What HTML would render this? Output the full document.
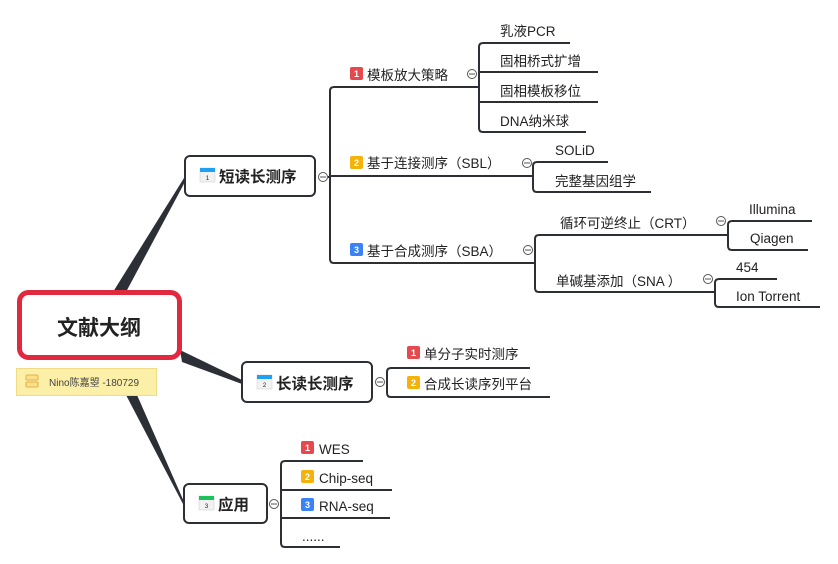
<!DOCTYPE html>
<html><head><meta charset="utf-8"><style>
html,body{margin:0;padding:0;background:#fff;width:838px;height:564px;overflow:hidden}
svg text{font-family:"Liberation Sans","Noto Sans CJK SC",sans-serif;fill:#222}
</style></head><body>
<svg width="838" height="564" viewBox="0 0 838 564" xmlns="http://www.w3.org/2000/svg">
<!-- main connectors -->
<path d="M113 292 L126 292 L186 180 L184 178 Z" fill="#2d2f36"/>
<path d="M180 350 L182 362 L242 384 L242 380 Z" fill="#2d2f36"/>
<path d="M126 395 L137 395 L185 504 L183 504 Z" fill="#2d2f36"/>
<g fill="none" stroke="#2d2f36" stroke-width="2">
<line x1="328" y1="177" x2="330" y2="177"/>
<path d="M478 87 H334 Q330 87 330 91 V259 Q330 263 334 263 H535"/>
<line x1="330" y1="176" x2="533" y2="176"/>
<path d="M570 43 H483 Q479 43 479 47 V128 Q479 132 483 132 H586"/>
<line x1="479" y1="72" x2="598" y2="72"/>
<line x1="479" y1="102" x2="598" y2="102"/>
<path d="M608 162 H537 Q533 162 533 166 V188 Q533 192 537 192 H651"/>
<path d="M728 235 H539 Q535 235 535 239 V288 Q535 292 539 292 H715"/>
<path d="M812 221 H732 Q728 221 728 225 V246 Q728 250 732 250 H808"/>
<path d="M777 279 H719 Q715 279 715 283 V303 Q715 307 719 307 H820"/>
<path d="M530 368 H391 Q387 368 387 372 V393 Q387 397 391 397 H550"/>
<path d="M363 461 H285 Q281 461 281 465 V543 Q281 547 285 547 H340"/>
<line x1="281" y1="490" x2="392" y2="490"/>
<line x1="281" y1="518" x2="390" y2="518"/>
</g>
<g fill="#fff" stroke="#555" stroke-width="1">
<circle cx="323" cy="177" r="4.5"/><circle cx="472" cy="74" r="4.5"/><circle cx="527" cy="163" r="4.5"/>
<circle cx="528" cy="250" r="4.5"/><circle cx="721" cy="221" r="4.5"/><circle cx="708" cy="279" r="4.5"/>
<circle cx="380" cy="382" r="4.5"/><circle cx="274" cy="504" r="4.5"/>
</g>
<g stroke="#555" stroke-width="1">
<line x1="320" y1="177" x2="326" y2="177"/><line x1="469" y1="74" x2="475" y2="74"/><line x1="524" y1="163" x2="530" y2="163"/>
<line x1="525" y1="250" x2="531" y2="250"/><line x1="718" y1="221" x2="724" y2="221"/><line x1="705" y1="279" x2="711" y2="279"/>
<line x1="377" y1="382" x2="383" y2="382"/><line x1="271" y1="504" x2="277" y2="504"/>
</g>
<rect x="19.5" y="292.5" width="160" height="65" rx="9" fill="#fff" stroke="#e0283f" stroke-width="5"/>
<text x="99" y="335" font-size="21" font-weight="bold" text-anchor="middle">文献大纲</text>
<rect x="16.5" y="368.5" width="140" height="27" fill="#fcefa8" stroke="#f0dc86"/>
<rect x="26" y="375" width="12" height="5" rx="1" fill="#fbe08a" stroke="#e2b24a" stroke-width="1"/>
<rect x="26" y="382" width="12" height="5" rx="1" fill="#fbe08a" stroke="#e2b24a" stroke-width="1"/>
<text x="49" y="386" font-size="10" style="fill:#444">Nino陈嘉曌 -180729</text>
<g fill="#fff" stroke="#2d2f36" stroke-width="2">
<rect x="185" y="156" width="130" height="40" rx="5"/>
<rect x="242" y="362" width="130" height="40" rx="5"/>
<rect x="184" y="484" width="83" height="39" rx="5"/>
</g>
<g>
<rect x="200" y="168" width="15" height="14" fill="#f2f2f2" stroke="#ccc" stroke-width="0.5"/><rect x="200" y="168" width="15" height="4" fill="#1ea1f2"/>
<text x="207.5" y="180" font-size="6" text-anchor="middle">1</text>
<rect x="257" y="375" width="15" height="14" fill="#f2f2f2" stroke="#ccc" stroke-width="0.5"/><rect x="257" y="375" width="15" height="4" fill="#1ea1f2"/>
<text x="264.5" y="387" font-size="6" text-anchor="middle">2</text>
<rect x="199" y="496" width="15" height="14" fill="#f2f2f2" stroke="#ccc" stroke-width="0.5"/><rect x="199" y="496" width="15" height="4" fill="#1cc35a"/>
<text x="206.5" y="508" font-size="6" text-anchor="middle">3</text>
</g>
<g font-size="15.5" font-weight="bold">
<text x="219" y="182">短读长测序</text>
<text x="276" y="389">长读长测序</text>
<text x="218" y="510">应用</text>
</g>
<g>
<rect x="350" y="67" width="13" height="13" rx="2" fill="#e5484d"/><rect x="350" y="156" width="13" height="13" rx="2" fill="#f5b20a"/><rect x="350" y="243" width="13" height="13" rx="2" fill="#3b82f6"/>
<rect x="407" y="346" width="13" height="13" rx="2" fill="#e5484d"/><rect x="407" y="376" width="13" height="13" rx="2" fill="#f5b20a"/>
<rect x="301" y="441" width="13" height="13" rx="2" fill="#e5484d"/><rect x="301" y="470" width="13" height="13" rx="2" fill="#f5b20a"/><rect x="301" y="498" width="13" height="13" rx="2" fill="#3b82f6"/>
</g>
<g font-size="9" font-weight="bold" text-anchor="middle">
<text x="356.5" y="77" style="fill:#fff">1</text><text x="356.5" y="166" style="fill:#fff">2</text><text x="356.5" y="253" style="fill:#fff">3</text>
<text x="413.5" y="356" style="fill:#fff">1</text><text x="413.5" y="386" style="fill:#fff">2</text>
<text x="307.5" y="451" style="fill:#fff">1</text><text x="307.5" y="480" style="fill:#fff">2</text><text x="307.5" y="508" style="fill:#fff">3</text>
</g>
<g font-size="13.5">
<text x="367" y="80">模板放大策略</text>
<text x="367" y="168">基于连接测序（SBL）</text>
<text x="367" y="256">基于合成测序（SBA）</text>
<text x="500" y="36">乳液PCR</text>
<text x="500" y="66">固相桥式扩增</text>
<text x="500" y="96">固相模板移位</text>
<text x="500" y="126">DNA纳米球</text>
<text x="555" y="155">SOLiD</text>
<text x="555" y="186">完整基因组学</text>
<text x="560" y="228">循环可逆终止（CRT）</text>
<text x="556" y="286">单碱基添加（SNA ）</text>
<text x="749" y="214">Illumina</text>
<text x="750" y="243">Qiagen</text>
<text x="736" y="272">454</text>
<text x="736" y="301">Ion Torrent</text>
<text x="424" y="359">单分子实时测序</text>
<text x="424" y="389">合成长读序列平台</text>
<text x="319" y="454">WES</text>
<text x="319" y="483">Chip-seq</text>
<text x="319" y="511">RNA-seq</text>
<text x="302" y="541">......</text>
</g>
</svg>
</body></html>
